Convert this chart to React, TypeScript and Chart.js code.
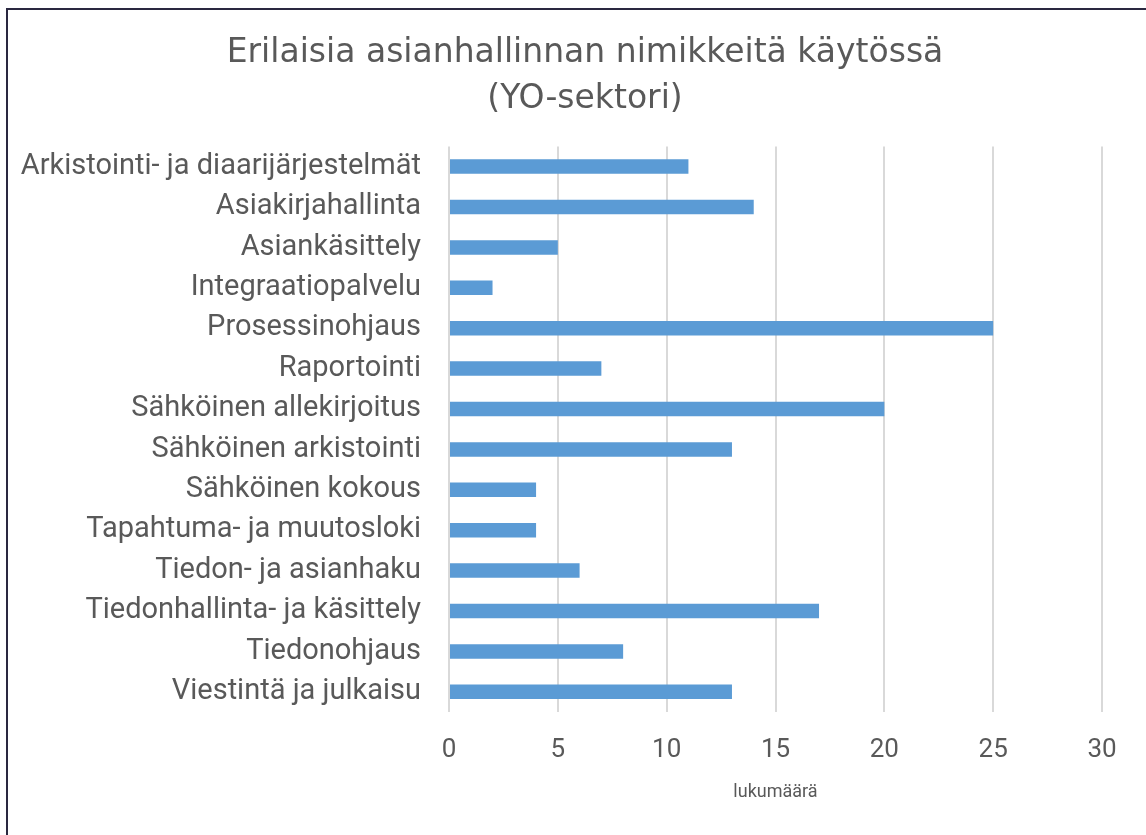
import React, { useEffect, useRef } from "react";
import { Chart, registerables } from "chart.js";

Chart.register(...registerables);

const categories = [
  "Arkistointi- ja diaarijärjestelmät",
  "Asiakirjahallinta",
  "Asiankäsittely",
  "Integraatiopalvelu",
  "Prosessinohjaus",
  "Raportointi",
  "Sähköinen allekirjoitus",
  "Sähköinen arkistointi",
  "Sähköinen kokous",
  "Tapahtuma- ja muutosloki",
  "Tiedon- ja asianhaku",
  "Tiedonhallinta- ja käsittely",
  "Tiedonohjaus",
  "Viestintä ja julkaisu",
];
const counts = [11, 14, 5, 2, 25, 7, 20, 13, 4, 4, 6, 17, 8, 13];
const titleLines = ["Erilaisia asianhallinnan nimikkeitä käytössä", "(YO-sektori)"];
const xAxisTitle = "lukumäärä";
const xMin = 0;
const xMax = 30;
const xStep = 5;

const FONT = "Roboto, 'Liberation Sans', sans-serif";
const TITLE_FONT = "'DejaVu Sans', sans-serif";
const TEXT = "#595959";

export default function App() {
  const ref = useRef<HTMLCanvasElement | null>(null);
  useEffect(() => {
    if (!ref.current) return;
    const chart = new Chart(ref.current, {
      type: "bar",
      data: {
        labels: categories,
        datasets: [
          {
            data: counts,
            backgroundColor: "#5b9bd5",
            borderWidth: 0,
            barPercentage: 0.72,
            categoryPercentage: 0.5,
          },
        ],
      },
      options: {
        indexAxis: "y",
        animation: false,
        responsive: false,
        layout: { padding: { left: 0, right: 0, top: 0, bottom: 28 } },
        plugins: {
          legend: { display: false },
          tooltip: { enabled: false },
          title: {
            display: true,
            text: titleLines,
            color: TEXT,
            font: { family: TITLE_FONT, size: 33, weight: "normal", lineHeight: 1.4 },
            padding: { top: 20, bottom: 24 },
          },
        },
        scales: {
          x: {
            min: xMin,
            max: xMax,
            ticks: {
              stepSize: xStep,
              color: TEXT,
              font: { family: FONT, size: 26 },
              padding: 23,
            },
            grid: { color: "#d9d9d9", lineWidth: 2, drawTicks: false },
            border: { display: false },
            title: {
              display: true,
              text: xAxisTitle,
              color: TEXT,
              font: { family: FONT, size: 18 },
              padding: { top: 0, bottom: 4 },
            },
            afterFit: (s: any) => {
              s.height = 95;
            },
          },
          y: {
            ticks: {
              color: TEXT,
              font: { family: FONT, size: 29 },
              padding: 28,
              autoSkip: false,
            },
            grid: { display: false, drawTicks: false },
            border: { display: false },
            afterFit: (s: any) => {
              s.width = 441;
            },
          },
          yRight: {
            type: "linear",
            position: "right",
            display: true,
            ticks: { display: false },
            grid: { display: false, drawTicks: false },
            border: { display: false },
            afterFit: (s: any) => {
              s.width = 60;
            },
          },
        },
      },
    });
    return () => chart.destroy();
  }, []);
  return (
    <div
      style={{
        position: "fixed",
        left: 6,
        top: 8,
        width: 1160,
        height: 900,
        borderTop: "2px solid #2a2840",
        borderLeft: "2px solid #2a2840",
        background: "#fff",
      }}
    >
      <canvas ref={ref} width={1154} height={825} style={{ display: "block" }} />
    </div>
  );
}
